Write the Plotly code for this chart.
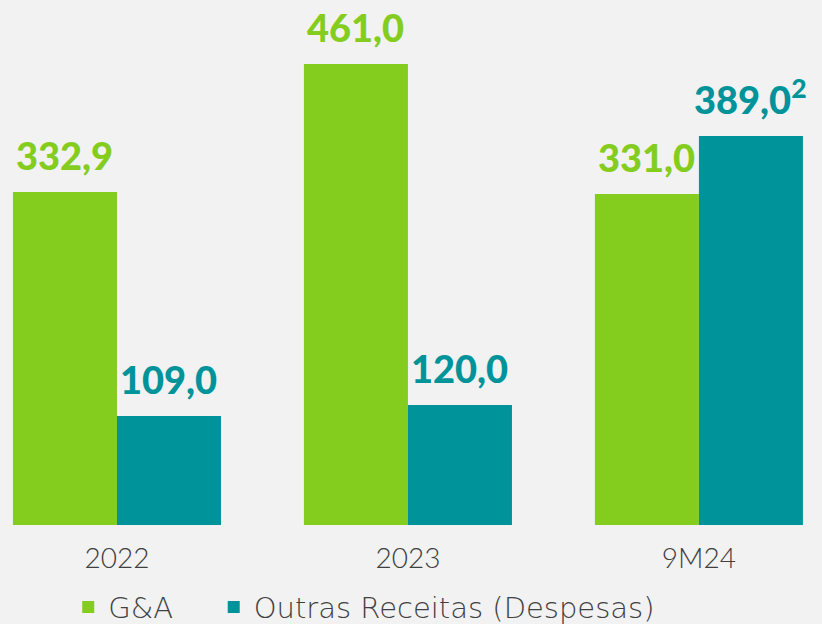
import plotly.graph_objects as go

periodos = ["2022", "2023", "9M24"]
ga = [332.9, 461.0, 331.0]
outras = [109.0, 120.0, 389.0]
rotulos_ga = ["332,9", "461,0", "331,0"]
rotulos_outras = ["109,0", "120,0", "389,0<sup>2</sup>"]

VERDE = "#84CC1E"
AZUL = "#00949A"
FUNDO = "#F2F2F2"
FONTE = "Lato"
FONTE_LEG = "DejaVu Sans"

_LEG = dict(orientation="h", xanchor="left", yref="paper", y=-0.108,
            yanchor="top", itemwidth=30, bgcolor="rgba(0,0,0,0)",
            font=dict(family=FONTE_LEG, size=29, color="#404040", weight=200))

fig = go.Figure()
fig.add_trace(go.Bar(x=periodos, y=ga, name="G&A", marker_color=VERDE,
                     marker_line_width=0, legend="legend"))
fig.add_trace(go.Bar(x=periodos, y=outras, name="Outras Receitas (Despesas)",
                     marker_color=AZUL, marker_line_width=0, legend="legend2"))

# rótulos de valor acima das barras (x pelo índice da categoria)
for i in range(len(periodos)):
    for val, txt, cor, dx in [(ga[i], rotulos_ga[i], VERDE, -52),
                              (outras[i], rotulos_outras[i], AZUL, 52)]:
        fig.add_annotation(
            x=i, y=val, xref="x", yref="y", text=txt, showarrow=False,
            xshift=dx, yshift=12, yanchor="bottom",
            font=dict(family=FONTE, size=38, color=cor, weight=900),
        )

fig.update_layout(
    width=822, height=624,
    paper_bgcolor=FUNDO, plot_bgcolor=FUNDO,
    margin=dict(t=0, b=99, l=0, r=0, autoexpand=False),
    barmode="group", bargap=0.285, bargroupgap=0,
    showlegend=True,
    legend=dict(_LEG, x=0.083),
    legend2=dict(_LEG, x=0.26),
    xaxis=dict(range=[-0.402, 2.423], showgrid=False, zeroline=False,
               showline=False, ticks="outside", ticklen=8, tickcolor=FUNDO,
               automargin=False,
               tickfont=dict(family=FONTE, size=28, color="#404040", weight=300)),
    yaxis=dict(range=[0, 525], visible=False, automargin=False),
)

fig.write_html("out.html", config=dict(displayModeBar=False),
               post_script="document.body.style.margin='0';"
                           "document.body.style.overflow='hidden';")
